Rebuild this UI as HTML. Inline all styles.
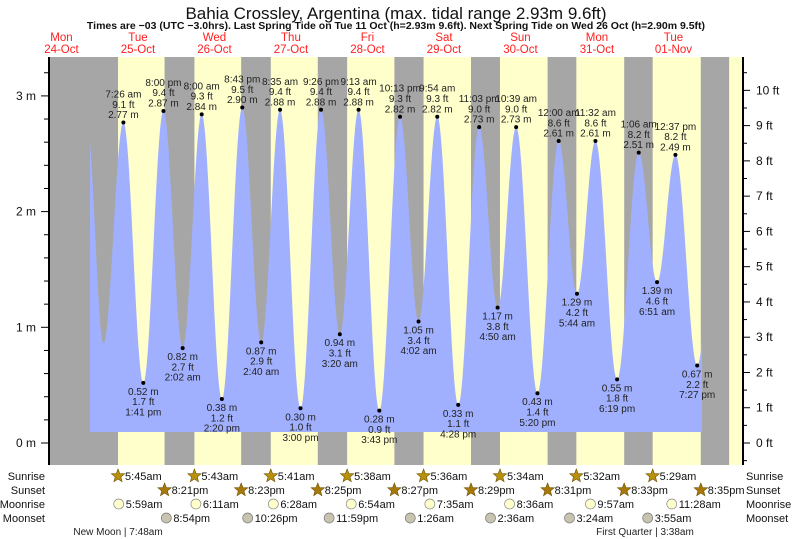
<!DOCTYPE html>
<html><head><meta charset="utf-8">
<style>
body{margin:0;background:#fff;}
svg{display:block;font-family:"Liberation Sans",sans-serif;}
</style></head>
<body>
<svg id="chart" width="793" height="539" viewBox="0 0 793 539" xmlns="http://www.w3.org/2000/svg">
<text x="396" y="19" font-size="17" text-anchor="middle" fill="#111">Bahia Crossley, Argentina (max. tidal range 2.93m 9.6ft)</text>
<text x="396" y="29" font-size="10.5" font-weight="bold" text-anchor="middle" fill="#111">Times are −03 (UTC −3.0hrs). Last Spring Tide on Tue 11 Oct (h=2.93m 9.6ft). Next Spring Tide on Wed 26 Oct (h=2.90m 9.5ft)</text>
<g id="bands"></g>
<g id="tide"></g>
<g id="labels"></g>
<g id="axes"></g>
<g id="astro"></g>
</svg>
<script>
// ---- data ----
const dayNames = ["Mon","Tue","Wed","Thu","Fri","Sat","Sun","Mon","Tue"];
const dayDates = ["24-Oct","25-Oct","26-Oct","27-Oct","28-Oct","29-Oct","30-Oct","31-Oct","01-Nov"];
// extremes: day offset from 25 Oct 00:00 (may be -1), hour, height (m)
const tideDay = [-1,0,0,0,0,1,1,1,1,2,2,2,2,3,3,3,3,4,4,4,4,5,5,5,5,6,6,6,7,7,7,7,7,0];
const tideHour = [20.0,1.17,7.43,13.68,20.0,2.03,8.0,14.33,20.72,2.67,8.58,15.0,21.43,3.33,9.22,15.72,22.22,4.03,9.9,16.47,23.05,4.83,10.65,17.33,24.0,5.73,11.53,18.32,1.1,6.85,12.62,19.45,26.0,0];
const tideHeight = [2.75,0.86,2.77,0.52,2.87,0.82,2.84,0.38,2.90,0.87,2.88,0.30,2.88,0.94,2.88,0.28,2.82,1.05,2.82,0.33,2.73,1.17,2.73,0.43,2.61,1.29,2.61,0.55,2.51,1.39,2.49,0.67,2.4,0];
const tideTimes = ["","","7:26 am","1:41 pm","8:00 pm","2:02 am","8:00 am","2:20 pm","8:43 pm","2:40 am","8:35 am","3:00 pm","9:26 pm","3:20 am","9:13 am","3:43 pm","10:13 pm","4:02 am","9:54 am","4:28 pm","11:03 pm","4:50 am","10:39 am","5:20 pm","12:00 am","5:44 am","11:32 am","6:19 pm","1:06 am","6:51 am","12:37 pm","7:27 pm","",""];
const sunriseH = [5.75,5.72,5.68,5.63,5.6,5.57,5.53,5.48,5.47];
const sunsetH = [20.35,20.38,20.42,20.45,20.48,20.52,20.55,20.58];
const sunriseTxt = ["5:45am","5:43am","5:41am","5:38am","5:36am","5:34am","5:32am","5:29am"];
const sunsetTxt = ["8:21pm","8:23pm","8:25pm","8:27pm","8:29pm","8:31pm","8:33pm","8:35pm"];
const moonriseH = [5.98,6.18,6.47,6.9,7.58,8.6,9.95,11.47];
const moonriseTxt = ["5:59am","6:11am","6:28am","6:54am","7:35am","8:36am","9:57am","11:28am"];
const moonsetD = [0,1,2,4,5,6,7];
const moonsetH = [20.9,22.43,23.98,1.43,2.6,3.4,3.92];
const moonsetTxt = ["8:54pm","10:26pm","11:59pm","1:26am","2:36am","3:24am","3:55am"];

// ---- scales ----
const X0=49, X1=743, YT=57, YB=465;
const dayW=76.5, mid=99.7;
const xT = (d,h)=> mid + (d + h/24)*dayW;
const yM = m => 443 - m*115.7;
const yF = f => 443 - f*0.3048*115.7;
const NS="http://www.w3.org/2000/svg";
function mk(tag, attrs, parent, txt){
  const e=document.createElementNS(NS,tag);
  for(const k in attrs) e.setAttribute(k,attrs[k]);
  if(txt!==undefined) e.textContent=txt;
  parent.appendChild(e); return e;
}
const bands=document.getElementById('bands');
const tideG=document.getElementById('tide');
const labG=document.getElementById('labels');
const axG=document.getElementById('axes');
const astro=document.getElementById('astro');

// background bands
let r=mk('rect',{x:X0,y:YT,width:X1-X0,height:YB-YT,fill:'#a6a6a6'},bands);


for(let i=0;i<8;i++){
  const a=xT(i,sunriseH[i]), b=xT(i,sunsetH[i]);
  const d=mk('rect',{x:a,y:YT,width:b-a,height:YB-YT,fill:'#ffffcc'},bands);
  
  
}
{
  const a=xT(8,sunriseH[8]);
  const d=mk('rect',{x:a,y:YT,width:X1-a,height:YB-YT,fill:'#ffffcc'},bands);
  
  
}

// day labels
for(let i=0;i<dayNames.length;i++){
  const x=xT(i-1,12);
  const t1=mk('text',{x:x,y:41,'font-size':11.5,'text-anchor':'middle',fill:'#ff2020'},labG,dayNames[i]);
  
  
  const t2=mk('text',{x:x,y:53,'font-size':11.5,'text-anchor':'middle',fill:'#ff2020'},labG,dayDates[i]);
  
  
}

// tide curve
const n=tideHeight.length-1;
const ext=[]; for(let i=0;i<n;i++) ext.push({t:tideDay[i]*24+tideHour[i], h:tideHeight[i]});
function hAt(t){
  for(let i=0;i<ext.length-1;i++){
    if(t>=ext[i].t && t<=ext[i+1].t){
      const f=(t-ext[i].t)/(ext[i+1].t-ext[i].t);
      return ext[i+1].h+(ext[i].h-ext[i+1].h)*(1+Math.cos(Math.PI*f))/2;
    }
  }
  return ext[ext.length-1].h;
}
const tStart=(90-mid)/dayW*24, tEnd=(702-mid)/dayW*24;
const yBase=432;
let p='M'+xT(0,tStart)+' '+yBase;
for(let t=tStart;t<=tEnd;t+=0.1){ p+=' L'+xT(0,t).toFixed(2)+' '+yM(hAt(t)).toFixed(2); }
p+=' L'+xT(0,tEnd)+' '+yBase+' Z';
const tp=mk('path',{d:p,fill:'#a0b0ff'},tideG);



// extreme labels
for(let i=2;i<32;i++){
  const x=xT(tideDay[i],tideHour[i]), y=yM(tideHeight[i]);
  const high=tideHeight[i]>tideHeight[i-1];
  const dot=mk('circle',{cx:x,cy:y,r:2,fill:'#000'},tideG);
  
  
  const m=tideHeight[i].toFixed(2)+' m', f=(tideHeight[i]/0.3048).toFixed(1)+' ft';
  const lines = high ? [tideTimes[i],f,m] : [m,f,tideTimes[i]];
  const y0 = high ? y-25 : y+12;
  lines.forEach((s,k)=>{
    const t=mk('text',{x:x,y:y0+k*10.3,'font-size':10,'text-anchor':'middle',fill:'#222'},tideG,s);
    
    
  });
}

// axes
let l=mk('line',{x1:X0,y1:YT,x2:X0,y2:YB,stroke:'#000','stroke-width':2},axG);


l=mk('line',{x1:X1,y1:YT,x2:X1,y2:YB,stroke:'#000','stroke-width':2},axG);


for(let k=-1;k<=17;k++){
  const m=k*0.2, y=yM(m); if(y<YT||y>YB) continue;
  const major=(k%5===0);
  const tk=mk('line',{x1:major?41:44,y1:y,x2:X0,y2:y,stroke:'#000','stroke-width':1},axG);
  
  
  if(major){
    const t=mk('text',{x:36,y:y+4,'font-size':12,'text-anchor':'end',fill:'#111'},axG,(k/5)+' m');
    
    
  }
}
for(let k=-1;k<=22;k++){
  const f=k*0.5, y=yF(f); if(y<YT||y>YB) continue;
  const major=(k%2===0);
  const tk=mk('line',{x1:X1,y1:y,x2:major?750:747,y2:y,stroke:'#000','stroke-width':1},axG);
  
  
  if(major){
    const t=mk('text',{x:756,y:y+4,'font-size':12,fill:'#111'},axG,(k/2)+' ft');
    
    
  }
}

// astro rows
const rows=[["Sunrise",480],["Sunset",494],["Moonrise",508],["Moonset",522]];
rows.forEach(([s,y])=>{
  let t=mk('text',{x:45,y:y,'font-size':11,'text-anchor':'end',fill:'#111'},astro,s);
  
  
  t=mk('text',{x:746,y:y,'font-size':11,fill:'#111'},astro,s);
  
  
});
function star(cx,cy,fill){
  let pts=[];
  for(let k=0;k<10;k++){const rr=k%2?3:7; const a=-Math.PI/2+k*Math.PI/5; pts.push((cx+rr*Math.cos(a)).toFixed(1)+','+(cy+rr*Math.sin(a)).toFixed(1));}
  return mk('polygon',{points:pts.join(' '),fill:fill,stroke:'#6b5200','stroke-width':0.6},astro);
}
for(let i=0;i<8;i++){
  let x=xT(i,sunriseH[i]);
  let s=star(x,476,'#b8900a');
  
  
  let t=mk('text',{x:x+7,y:480,'font-size':11,fill:'#111'},astro,sunriseTxt[i]);
  
  
  x=xT(i,sunsetH[i]);
  s=star(x,490,'#a8780a');
  
  
  t=mk('text',{x:x+7,y:494,'font-size':11,fill:'#111'},astro,sunsetTxt[i]);
  
  
  x=xT(i,moonriseH[i]);
  let c=mk('circle',{cx:x,cy:504,r:5,fill:'#ffffcc',stroke:'#888','stroke-width':0.7},astro);
  
  
  t=mk('text',{x:x+7,y:508,'font-size':11,fill:'#111'},astro,moonriseTxt[i]);
  
  
}
for(let i=0;i<moonsetH.length;i++){
  const x=xT(moonsetD[i],moonsetH[i]);
  let c=mk('circle',{cx:x,cy:518,r:5,fill:'#c8c4b0',stroke:'#777','stroke-width':0.7},astro);
  
  
  let t=mk('text',{x:x+7,y:522,'font-size':11,fill:'#111'},astro,moonsetTxt[i]);
  
  
}
let t=mk('text',{x:118,y:535,'font-size':10,'text-anchor':'middle',fill:'#222'},astro,"New Moon | 7:48am");


t=mk('text',{x:645,y:535,'font-size':10,'text-anchor':'middle',fill:'#222'},astro,"First Quarter | 3:38am");


</script>
</body></html>
